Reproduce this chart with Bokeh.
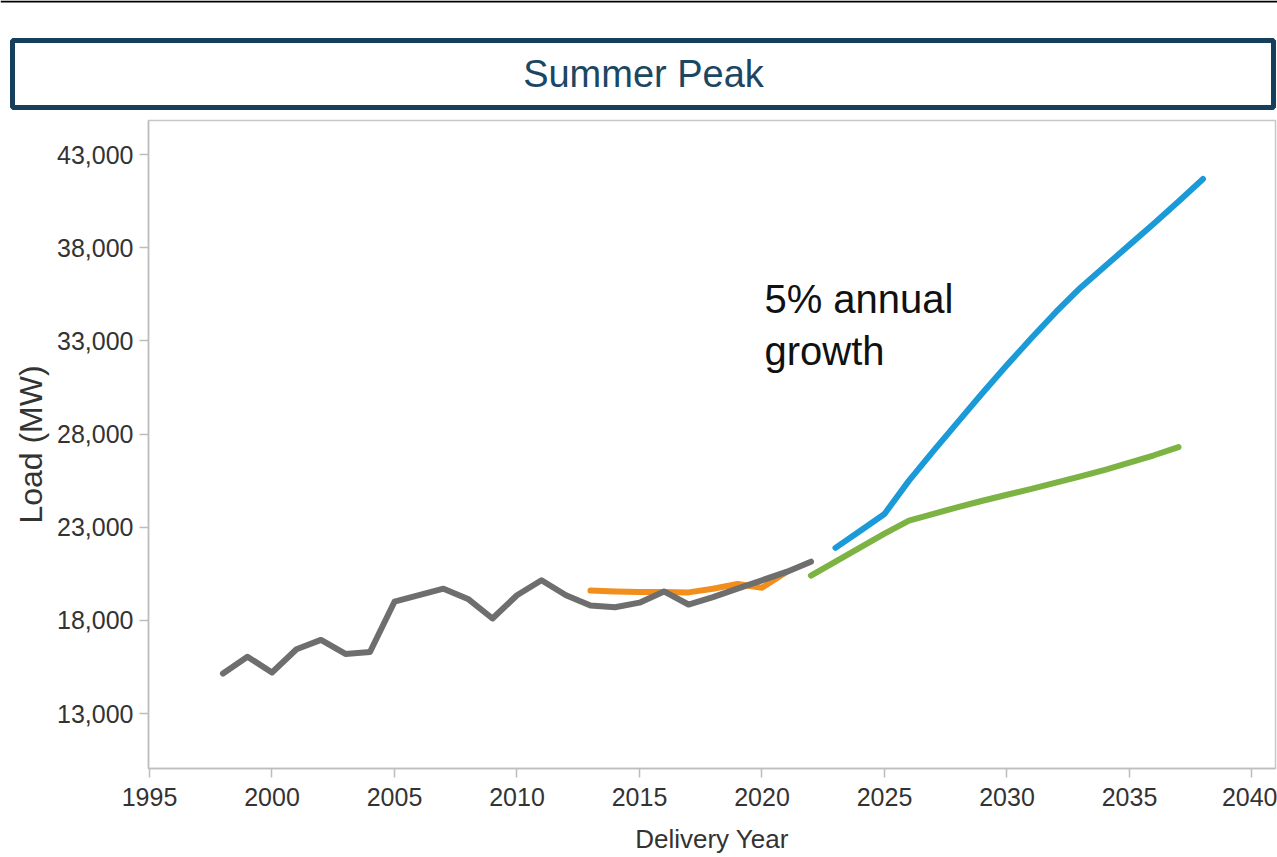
from bokeh.plotting import figure
from bokeh.models import Range1d, FixedTicker, NumeralTickFormatter, Label, BoxAnnotation
from bokeh.embed import file_html
from bokeh.resources import INLINE

# ---- data ----
hist_years = list(range(1998, 2023))
hist_load = [15150, 16050, 15200, 16450, 16950, 16200, 16300, 19000, 19350, 19700,
             19150, 18100, 19350, 20150, 19350, 18800, 18700, 18950, 19550, 18850,
             19250, 19700, 20150, 20600, 21150]

fcst_years = list(range(2013, 2022))
fcst_load = [19600, 19550, 19520, 19520, 19500, 19700, 19950, 19750, 20600]

base_years = list(range(2022, 2038))
base_load = [20400, 21150, 21900, 22650, 23350, 23720, 24080, 24420, 24740, 25060,
             25390, 25730, 26080, 26460, 26860, 27300]

high_years = list(range(2023, 2039))
high_load = [21890, 22800, 23710, 25500, 27100, 28650, 30200, 31700, 33150, 34550,
             35850, 37000, 38150, 39300, 40480, 41690]

x_ticks = [1995, 2000, 2005, 2010, 2015, 2020, 2025, 2030, 2035, 2040]
y_ticks = [13000, 18000, 23000, 28000, 33000, 38000, 43000]

title_text = "Summer Peak"
x_label = "Delivery Year"
y_label = "Load (MW)"
note_text = "5% annual\ngrowth"

FONT = "Liberation Sans"

# ---- header: top rule + title box (canvas drawn in pixel units) ----
HW, HH = 1277, 112
head = figure(width=HW, height=HH, x_range=Range1d(0, HW), y_range=Range1d(0, HH),
              x_axis_location=None, y_axis_location=None,
              output_backend="svg", toolbar_location=None,
              min_border_left=0, min_border_right=0, min_border_top=0, min_border_bottom=0)
head.grid.visible = False
head.outline_line_color = None
head.add_layout(BoxAnnotation(left=0, right=HW, bottom=HH - 2, top=HH,
                              fill_color="#000000", fill_alpha=1, line_color=None))
head.add_layout(BoxAnnotation(left=12, right=1273, bottom=HH - 107, top=HH - 40,
                              fill_alpha=0, line_color="#153f5a", line_alpha=1,
                              line_width=5))
head.add_layout(Label(x=643, y=HH - 73, text=title_text, text_align="center",
                      text_baseline="middle", text_font_size="38px",
                      text_color="#1c4763", text_font=FONT))

# ---- main chart ----
p = figure(width=1277, height=745,
           x_range=Range1d(1994.96, 2040.96), y_range=Range1d(10050, 44825),
           output_backend="svg", toolbar_location=None,
           min_border_left=148, min_border_right=2, min_border_top=8, min_border_bottom=89)
p.grid.visible = False
p.outline_line_color = "#c8c8c8"
p.outline_line_width = 1.5

p.xaxis.ticker = FixedTicker(ticks=x_ticks)
p.yaxis.ticker = FixedTicker(ticks=y_ticks)
p.yaxis.formatter = NumeralTickFormatter(format="0,0")

for ax in (p.xaxis, p.yaxis):
    ax.axis_line_color = "#bdbdbd"
    ax.axis_line_width = 1.5
    ax.major_tick_line_color = "#bdbdbd"
    ax.major_tick_line_width = 1.5
    ax.major_tick_in = 0
    ax.major_tick_out = 9
    ax.minor_tick_line_color = None
    ax.major_label_text_color = "#333333"
    ax.major_label_text_font = FONT
    ax.axis_label_text_color = "#333333"
    ax.axis_label_text_font = FONT
    ax.axis_label_text_font_style = "normal"

p.xaxis.major_label_standoff = 10
p.yaxis.major_label_standoff = 6
p.xaxis.major_label_text_font_size = "25px"
p.yaxis.major_label_text_font_size = "25px"
p.xaxis.axis_label = x_label
p.yaxis.axis_label = y_label
p.xaxis.axis_label_text_font_size = "26px"
p.yaxis.axis_label_text_font_size = "32px"
p.xaxis.axis_label_standoff = 15
p.yaxis.axis_label_standoff = 5

lw = 6
p.line(fcst_years, fcst_load, line_color="#f28e1c", line_width=lw, line_cap="round", line_join="round")
p.line(hist_years, hist_load, line_color="#6e6e6e", line_width=lw, line_cap="round", line_join="round")
p.line(base_years, base_load, line_color="#7cb342", line_width=lw, line_cap="round", line_join="round")
p.line(high_years, high_load, line_color="#1b9ad8", line_width=lw, line_cap="round", line_join="round")

p.add_layout(Label(x=2020.1, y=36450, text=note_text, text_align="left", text_baseline="top",
                   text_font_size="40px", text_color="#111111", text_font=FONT,
                   text_line_height=1.2))

open("out.html", "w").write(file_html([head, p], INLINE))
